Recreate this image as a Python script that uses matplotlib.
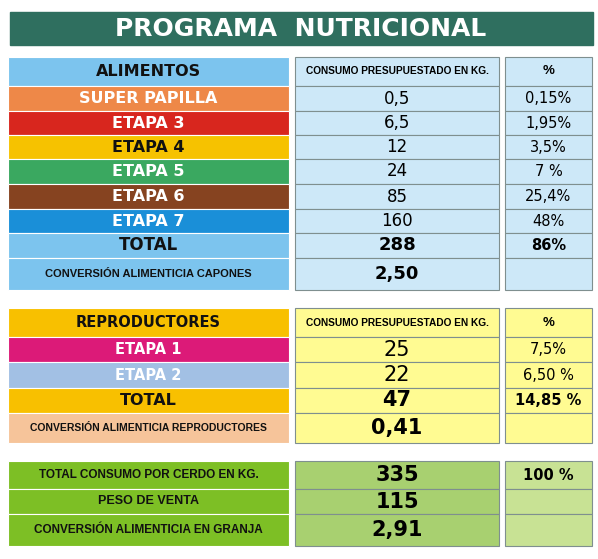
import matplotlib
matplotlib.use("Agg")
import matplotlib.pyplot as plt
from matplotlib.patches import Rectangle

title = "PROGRAMA NUTRICIONAL"
s1_labels = ["ALIMENTOS", "SUPER PAPILLA", "ETAPA 3", "ETAPA 4", "ETAPA 5", "ETAPA 6", "ETAPA 7", "TOTAL", "CONVERSIÓN ALIMENTICIA CAPONES"]
s1_values = ["CONSUMO PRESUPUESTADO EN KG.", "0,5", "6,5", "12", "24", "85", "160", "288", "2,50"]
s1_pct = ["%", "0,15%", "1,95%", "3,5%", "7 %", "25,4%", "48%", "86%", ""]
s2_labels = ["REPRODUCTORES", "ETAPA 1", "ETAPA 2", "TOTAL", "CONVERSIÓN ALIMENTICIA REPRODUCTORES"]
s2_values = ["CONSUMO PRESUPUESTADO EN KG.", "25", "22", "47", "0,41"]
s2_pct = ["%", "7,5%", "6,50 %", "14,85 %", ""]
s3_labels = ["TOTAL CONSUMO POR CERDO EN KG.", "PESO DE VENTA", "CONVERSIÓN ALIMENTICIA EN GRANJA"]
s3_values = ["335", "115", "2,91"]
s3_pct = ["100 %", "", ""]

fig = plt.figure(figsize=(5.98, 5.59), dpi=100)
ax = fig.add_axes([0, 0, 1, 1])
ax.set_xlim(0, 598); ax.set_ylim(559, 0); ax.axis("off")

WIDE = dict(family="DejaVu Sans", weight="bold")
NARROW = dict(family=["Liberation Sans Narrow", "Liberation Sans", "DejaVu Sans"], weight="bold")

ax.add_patch(Rectangle((10, 12), 583, 33, color="#2f6f5f"))
ax.text(301, 29, "  ".join(title.split(" ")), ha="center", va="center", color="white", fontsize=18, **WIDE)

COLS = [(8, 281), (295, 204), (505, 87)]

def section(edges, labels, values, pct, lcolors, lfg, lstyle, mid, right, vsize, lsize, vfont, header=True):
    for i in range(len(labels)):
        y0, y1 = edges[i], edges[i + 1]
        h = y1 - y0
        ax.add_patch(Rectangle((COLS[0][0], y0), COLS[0][1], h, facecolor=lcolors[i], edgecolor="white", lw=0.8))
        ax.add_patch(Rectangle((COLS[1][0], y0), COLS[1][1], h, facecolor=mid, edgecolor="#7f8f8f", lw=0.8))
        ax.add_patch(Rectangle((COLS[2][0], y0), COLS[2][1], h, facecolor=right, edgecolor="#7f8f8f", lw=0.8))
        cy = (y0 + y1) / 2
        f = WIDE if lstyle[i] == "w" else NARROW
        ax.text(COLS[0][0] + COLS[0][1] / 2, cy, labels[i], ha="center", va="center",
                color=lfg[i], fontsize=lsize[i], **f)
        if i == 0 and header:
            ax.text(COLS[1][0] + COLS[1][1] / 2, cy, values[i], ha="center", va="center", fontsize=7.3, **NARROW)
            ax.text(COLS[2][0] + COLS[2][1] / 2, cy, pct[i], ha="center", va="center", fontsize=9.5, **NARROW)
        else:
            ax.text(COLS[1][0] + COLS[1][1] / 2, cy, values[i], ha="center", va="center",
                    fontsize=vsize[i], **vfont[i])
            ax.text(COLS[2][0] + COLS[2][1] / 2, cy, pct[i], ha="center", va="center",
                    fontsize=10.5, family=["Liberation Sans Narrow", "DejaVu Sans"],
                    weight="bold" if ("86" in pct[i] or "14" in pct[i] or "100" in pct[i]) else "normal")

REG = dict(family="DejaVu Sans")
REGB = dict(family="DejaVu Sans", weight="bold")
section([57, 86, 111, 135, 159, 184, 209, 233, 258, 290], s1_labels, s1_values, s1_pct,
        ["#7cc4ee", "#ee8848", "#d8261e", "#f6c200", "#3aa860", "#864320", "#1a8fd8", "#7cc4ee", "#7cc4ee"],
        ["#111", "white", "white", "#111", "white", "white", "white", "#111", "#111"],
        ["w"] * 8 + ["n"], "#cde8f8", "#cde8f8",
        [0, 12, 12, 12, 12, 12, 12, 13, 13], [11.5, 11.5, 11.5, 11.5, 11.5, 11.5, 11.5, 12, 8],
        [REG] * 7 + [REGB, REGB])
section([308, 337, 362, 388, 413, 443], s2_labels, s2_values, s2_pct,
        ["#f8c000", "#dc1a78", "#a2c0e4", "#f8c000", "#f6c49a"],
        ["#111", "white", "white", "#111", "#111"],
        ["w"] * 4 + ["n"], "#fffb92", "#fffb92",
        [0, 15, 15, 15, 15], [10.5, 10.5, 10.5, 11.5, 7.5], [REG, REG, REG, REGB, REGB])
section([461, 489, 514, 546], s3_labels, s3_values, s3_pct,
        ["#7dbf25", "#7dbf25", "#7dbf25"], ["#111"] * 3, ["n"] * 3, "#a8d070", "#c8e294",
        [15, 15, 15], [8.5, 9, 8.5], [REGB] * 3, header=False)

fig.savefig("out.png", dpi=100, facecolor="white")
